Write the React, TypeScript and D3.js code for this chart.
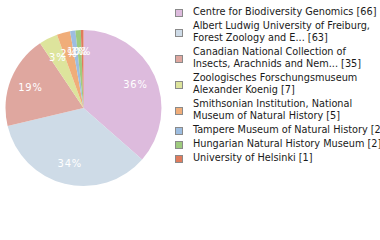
import React from 'react';
import { pie, arc, select, PieArcDatum } from 'd3';

const labels = [
  ['Centre for Biodiversity Genomics [66]'],
  ['Albert Ludwig University of Freiburg,', 'Forest Zoology and E... [63]'],
  ['Canadian National Collection of', 'Insects, Arachnids and Nem... [35]'],
  ['Zoologisches Forschungsmuseum', 'Alexander Koenig [7]'],
  ['Smithsonian Institution, National', 'Museum of Natural History [5]'],
  ['Tampere Museum of Natural History [2]'],
  ['Hungarian Natural History Museum [2]'],
  ['University of Helsinki [1]'],
];
const counts = [66, 63, 35, 7, 5, 2, 2, 1];
const colors = ['#ddbbdd', '#cedbe7', '#dfa79f', '#dde49c', '#f0ad79', '#9dbde0', '#9ecb7e', '#e07b5c'];

const width = 380;
const height = 240;
const cx = 83.5;
const cy = 108;
const radius = 78;

const App: React.FC = () => {
  const svgRef = React.useRef<SVGSVGElement>(null);

  React.useEffect(() => {
    const svg = select(svgRef.current);
    svg.selectAll('*').remove();

    const total = counts.reduce((a, b) => a + b, 0);
    const pieGen = pie<number>().sort(null).value(d => d);
    const arcs = pieGen(counts);
    const arcGen = arc<PieArcDatum<number>>().innerRadius(0).outerRadius(radius);
    const labelArc = arc<PieArcDatum<number>>().innerRadius(57).outerRadius(57);

    const g = svg.append('g').attr('transform', `translate(${cx},${cy})`);
    g.selectAll('path')
      .data(arcs)
      .join('path')
      .attr('d', arcGen)
      .attr('fill', (d, i) => colors[i]);

    g.selectAll('text')
      .data(arcs)
      .join('text')
      .attr('transform', d => `translate(${labelArc.centroid(d)})`)
      .attr('text-anchor', 'middle')
      .attr('dy', '0.35em')
      .attr('fill', '#ffffff')
      .attr('font-family', 'DejaVu Sans Condensed, DejaVu Sans')
      .attr('font-size', 11)
      .attr('letter-spacing', 0.8)
      .text(d => `${Math.floor((d.value / total) * 100)}%`);

    // legend
    const legend = svg.append('g');
    let y = 15;
    labels.forEach((lines, i) => {
      const n = lines.length;
      const top = y - 9;
      const boxY = top + (n * 12) / 2 - 3.5;
      legend.append('rect')
        .attr('x', 175.5)
        .attr('y', Math.round(boxY) + 0.5)
        .attr('width', 7)
        .attr('height', 7)
        .attr('fill', colors[i])
        .attr('stroke', '#8a8a8a')
        .attr('stroke-width', 1);
      const t = legend.append('text')
        .attr('font-family', 'DejaVu Sans Condensed, DejaVu Sans')
        .attr('font-size', 10.8)
        .attr('fill', '#1a1a1a');
      lines.forEach((line, j) => {
        t.append('tspan').attr('x', 193).attr('y', y + j * 12).text(line);
      });
      y += n * 12 + 2;
    });
  }, []);

  return (
    <svg
      ref={svgRef}
      width={width}
      height={height}
      style={{ position: 'absolute', left: 0, top: 0, background: '#ffffff' }}
    />
  );
};

export default App;
